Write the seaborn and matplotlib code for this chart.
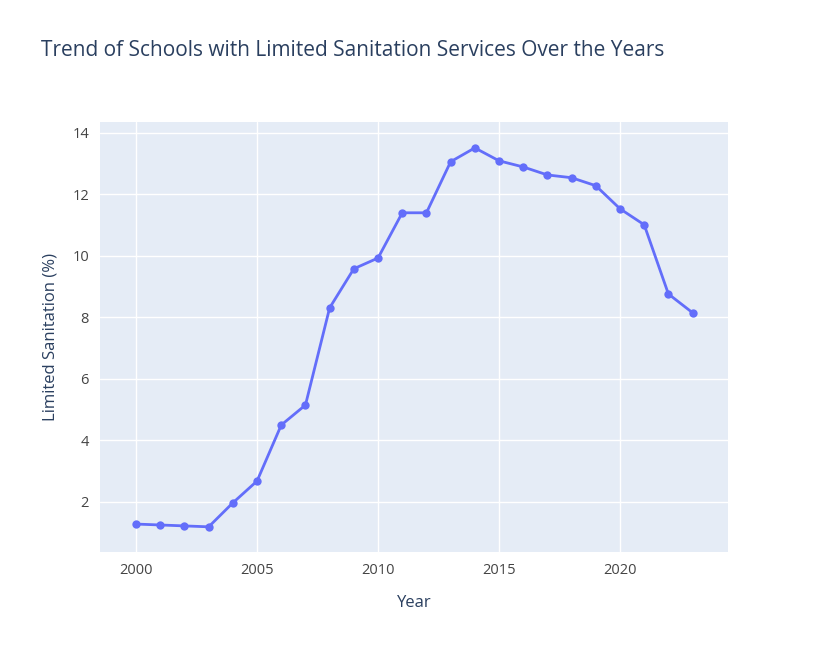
import numpy as np
import pandas as pd
import seaborn as sns
import matplotlib.pyplot as plt

years = list(range(2000, 2024))
limited_sanitation = [1.28, 1.25, 1.22, 1.19, 1.97, 2.68, 4.50, 5.15, 8.31, 9.58,
                      9.93, 11.40, 11.40, 13.06, 13.51, 13.09, 12.89, 12.63, 12.54,
                      12.28, 11.53, 11.01, 8.76, 8.15]

df = pd.DataFrame({'Year': years, 'Limited Sanitation (%)': limited_sanitation})

sns.set_style('white')
plt.rcParams['font.family'] = ['Open Sans', 'DejaVu Sans']
txt = '#2a3f5f'

fig = plt.figure(figsize=(8.24, 6.51), dpi=100)
ax = fig.add_axes([0.1214, 0.152, 0.762, 0.661])
ax.set_facecolor('#E5ECF6')
sns.lineplot(data=df, x='Year', y='Limited Sanitation (%)', ax=ax, color='#636EFA',
             marker='o', markersize=6, markeredgewidth=0, linewidth=2, zorder=3)

ax.set_xlim(1998.51, 2024.46)
ax.set_ylim(0.37, 14.36)
ax.set_xticks([2000, 2005, 2010, 2015, 2020])
ax.set_yticks([2, 4, 6, 8, 10, 12, 14])
ax.grid(True, color='white', linewidth=1)
ax.set_axisbelow(True)
for s in ax.spines.values():
    s.set_visible(False)
ax.tick_params(length=0, labelsize=10.5, labelcolor='#444', pad=8)
ax.set_xlabel('Year', fontsize=12, color=txt, labelpad=12)
ax.set_ylabel('Limited Sanitation (%)', fontsize=12, color=txt, labelpad=10)
fig.text(41 / 824, 1 - 50 / 651, 'Trend of Schools with Limited Sanitation Services Over the Years',
         fontsize=15, color=txt, va='center', ha='left')

fig.savefig('out.png', dpi=100, facecolor='white')
